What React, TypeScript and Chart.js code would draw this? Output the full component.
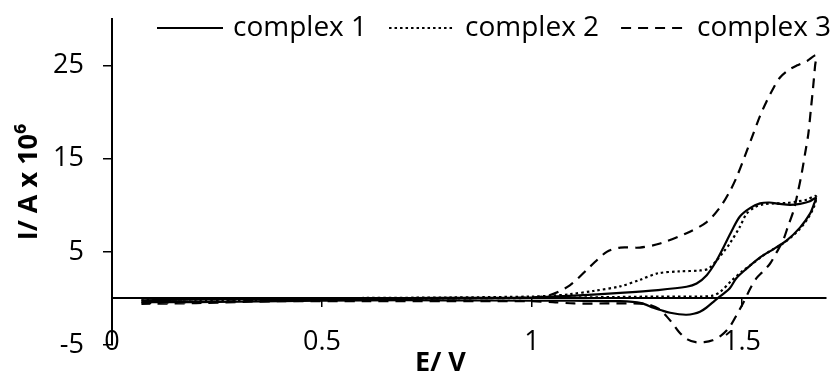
import React, { useEffect, useRef } from 'react';
import { Chart, registerables } from 'chart.js';

Chart.register(...registerables);

const seriesLabels = ['complex 1', 'complex 2', 'complex 3'];
const xTickValues = [0, 0.5, 1, 1.5];
const yTickValues = [-5, 5, 15, 25];
const xTitle = 'E/ V';
const yTitle = 'I/ A x 10⁶';

// complex 1 (solid): forward scan then reverse scan
const c1E = [0.07, 0.2, 0.4, 0.6, 0.8, 1.0, 1.1, 1.21, 1.3, 1.368, 1.392, 1.416, 1.436, 1.456, 1.476, 1.495, 1.519, 1.543, 1.565, 1.59, 1.614, 1.638, 1.66, 1.676,
  1.672, 1.662, 1.638, 1.606, 1.575, 1.543, 1.511, 1.487, 1.471, 1.45, 1.432, 1.415, 1.4, 1.385, 1.368, 1.35, 1.329, 1.31, 1.289, 1.26, 1.21, 1.1, 1.0, 0.8, 0.6, 0.4, 0.2, 0.07];
const c1I = [-0.2, -0.1, -0.05, 0, 0.05, 0.1, 0.3, 0.6, 0.9, 1.25, 1.6, 2.5, 3.8, 5.5, 7.3, 8.8, 9.7, 10.2, 10.3, 10.15, 10.05, 10.15, 10.4, 10.8,
  10.2, 9.1, 7.6, 6.2, 5.3, 4.4, 3.2, 2.2, 1.1, 0.3, -0.36, -1.0, -1.43, -1.65, -1.75, -1.7, -1.54, -1.3, -1.0, -0.5, -0.3, -0.25, -0.25, -0.2, -0.2, -0.3, -0.4, -0.4];

// complex 2 (dotted)
const c2E = [0.07, 0.2, 0.4, 0.6, 0.8, 1.0, 1.05, 1.09, 1.146, 1.21, 1.257, 1.3, 1.35, 1.4, 1.42, 1.44, 1.456, 1.471, 1.495, 1.511, 1.531, 1.55, 1.58, 1.606, 1.63, 1.654, 1.676,
  1.672, 1.654, 1.63, 1.598, 1.575, 1.55, 1.527, 1.5, 1.475, 1.448, 1.43, 1.4, 1.3, 1.2, 1.1, 1.0, 0.8, 0.6, 0.4, 0.2, 0.07];
const c2I = [-0.2, -0.1, 0, 0.05, 0.1, 0.2, 0.3, 0.45, 0.8, 1.3, 2.0, 2.7, 2.9, 3.0, 3.2, 4.1, 5.0, 5.9, 7.7, 9.1, 9.8, 10.1, 10.2, 10.25, 10.4, 10.6, 11.0,
  9.9, 8.4, 7.1, 5.9, 5.3, 4.6, 3.8, 2.9, 1.9, 0.7, 0.3, 0.2, 0.2, 0.15, 0.1, 0.05, 0, -0.1, -0.2, -0.3, -0.3];

// complex 3 (dashed)
const c3E = [0.07, 0.2, 0.4, 0.6, 0.8, 1.0, 1.043, 1.09, 1.138, 1.178, 1.21, 1.257, 1.305, 1.368, 1.416, 1.448, 1.471, 1.487, 1.507, 1.527, 1.543, 1.559, 1.575, 1.59, 1.61, 1.63, 1.655, 1.676,
  1.674, 1.67, 1.664, 1.658, 1.65, 1.642, 1.633, 1.623, 1.61, 1.598, 1.583, 1.567, 1.55, 1.535, 1.52, 1.505, 1.487, 1.47, 1.45, 1.43, 1.41, 1.39, 1.37, 1.35, 1.335, 1.32, 1.305, 1.28, 1.257, 1.178, 1.1, 1.05, 1.0, 0.8, 0.6, 0.4, 0.2, 0.07];
const c3I = [-0.5, -0.4, -0.2, -0.1, 0, 0.1, 0.36, 1.4, 3.4, 5.0, 5.46, 5.46, 5.9, 7.0, 8.2, 9.8, 11.5, 13.0, 15.3, 17.7, 19.6, 21.2, 22.6, 23.7, 24.5, 25.0, 25.5, 26.1,
  25.0, 23.0, 20.3, 17.7, 15.5, 13.4, 11.4, 9.46, 7.8, 6.25, 5.0, 3.75, 2.9, 2.2, 1.1, -0.3, -1.8, -3.1, -4.0, -4.5, -4.7, -4.7, -4.4, -3.6, -2.7, -1.9, -1.2, -0.7, -0.55, -0.54, -0.54, -0.4, -0.3, -0.3, -0.3, -0.3, -0.5, -0.6];

const FONT = '"Open Sans", "DejaVu Sans", sans-serif';

export default function App() {
  const ref = useRef<HTMLCanvasElement>(null);

  useEffect(() => {
    const toPts = (e: number[], i: number[]) => e.map((x, k) => ({ x, y: i[k] }));

    // legend drawn across the top of the plot, overlapping it as in the original
    const legendPlugin = {
      id: 'topLegend',
      afterDraw(chart: any) {
        const ctx = chart.ctx;
        const a = chart.chartArea;
        ctx.save();
        ctx.font = `28px ${FONT}`;
        ctx.textBaseline = 'middle';
        ctx.textAlign = 'left';
        ctx.fillStyle = '#000';
        let x = a.left + 45;
        const y = a.top + 9;
        chart.data.datasets.forEach((ds: any) => {
          ctx.beginPath();
          ctx.setLineDash(ds.borderDash || []);
          ctx.lineWidth = ds.borderWidth;
          ctx.strokeStyle = ds.borderColor;
          ctx.moveTo(x, y);
          ctx.lineTo(x + 66, y);
          ctx.stroke();
          ctx.setLineDash([]);
          x += 66 + 10;
          ctx.fillText(ds.label, x, y);
          x += ctx.measureText(ds.label).width + 22;
        });
        ctx.restore();
      },
    };

    const xTitlePlugin = {
      id: 'xTitlePlugin',
      afterDraw(chart: any) {
        const ctx = chart.ctx;
        const a = chart.chartArea;
        ctx.save();
        ctx.font = `bold 27px ${FONT}`;
        ctx.fillStyle = '#000';
        ctx.textAlign = 'center';
        ctx.textBaseline = 'middle';
        ctx.fillText(xTitle, a.left + 0.46 * (a.right - a.left), chart.height - 11);
        ctx.restore();
      },
    };

    const common = {
      borderColor: '#000',
      backgroundColor: '#000',
      borderWidth: 2.2,
      pointRadius: 0,
      pointHoverRadius: 0,
      tension: 0.3,
      fill: false,
    };

    const noSpace = (s: any) => {
      s.height = 0;
      s.paddingLeft = 0;
      s.paddingRight = 0;
      s.paddingTop = 0;
      s.paddingBottom = 0;
    };

    const chart = new Chart(ref.current!, {
      type: 'line',
      data: {
        datasets: [
          { ...common, label: seriesLabels[0], data: toPts(c1E, c1I), borderDash: [] },
          { ...common, label: seriesLabels[1], data: toPts(c2E, c2I), borderDash: [2.5, 3] },
          { ...common, label: seriesLabels[2], data: toPts(c3E, c3I), borderDash: [10, 7] },
        ],
      },
      options: {
        responsive: false,
        animation: false,
        layout: { padding: { top: 19, right: 4, left: 0, bottom: 29 } },
        plugins: {
          legend: { display: false },
          tooltip: { enabled: false },
        },
        scales: {
          // tick labels along the bottom of the plot (at the -5 level)
          x: {
            type: 'linear',
            axis: 'x',
            position: { y: -5 },
            min: 0,
            max: 1.7,
            afterBuildTicks: (s: any) => { s.ticks = xTickValues.map((v) => ({ value: v })); },
            afterFit: noSpace,
            border: { display: false },
            grid: { display: false, drawTicks: false },
            ticks: { padding: -19, color: '#000', font: { family: FONT, size: 27 }, callback: (v: any) => String(v), maxRotation: 0, autoSkip: false },
          },
          // axis line with tick marks crossing the plot at I = 0
          x0: {
            type: 'linear',
            axis: 'x',
            position: { y: 0 },
            min: 0,
            max: 1.7,
            afterBuildTicks: (s: any) => { s.ticks = xTickValues.map((v) => ({ value: v })); },
            afterFit: noSpace,
            border: { display: true, color: '#000', width: 2 },
            grid: { drawOnChartArea: false, drawTicks: true, tickLength: 8, color: '#000', lineWidth: 1.5 },
            ticks: { display: false },
          },
          y: {
            type: 'linear',
            position: 'left',
            min: -5,
            max: 30,
            afterBuildTicks: (s: any) => { s.ticks = yTickValues.map((v) => ({ value: v })); },
            afterFit: (s: any) => { s.width = 112; s.paddingTop = 0; s.paddingBottom = 0; },
            border: { display: true, color: '#000', width: 2 },
            grid: { drawOnChartArea: false, drawTicks: true, tickLength: 9, color: '#000', lineWidth: 1.5 },
            ticks: { padding: 19, color: '#000', font: { family: FONT, size: 27 }, callback: (v: any) => String(v) },
            title: {
              display: true,
              text: yTitle,
              color: '#000',
              font: { family: FONT, size: 27, weight: 'bold' },
              padding: { top: 13, bottom: 0 },
            },
          },
        },
      } as any,
      plugins: [legendPlugin, xTitlePlugin],
    });

    return () => chart.destroy();
  }, []);

  return (
    <div style={{ position: 'fixed', left: 0, top: 0, width: 830, height: 374, background: '#fff' }}>
      <canvas ref={ref} width={830} height={374} style={{ display: 'block' }} />
    </div>
  );
}
